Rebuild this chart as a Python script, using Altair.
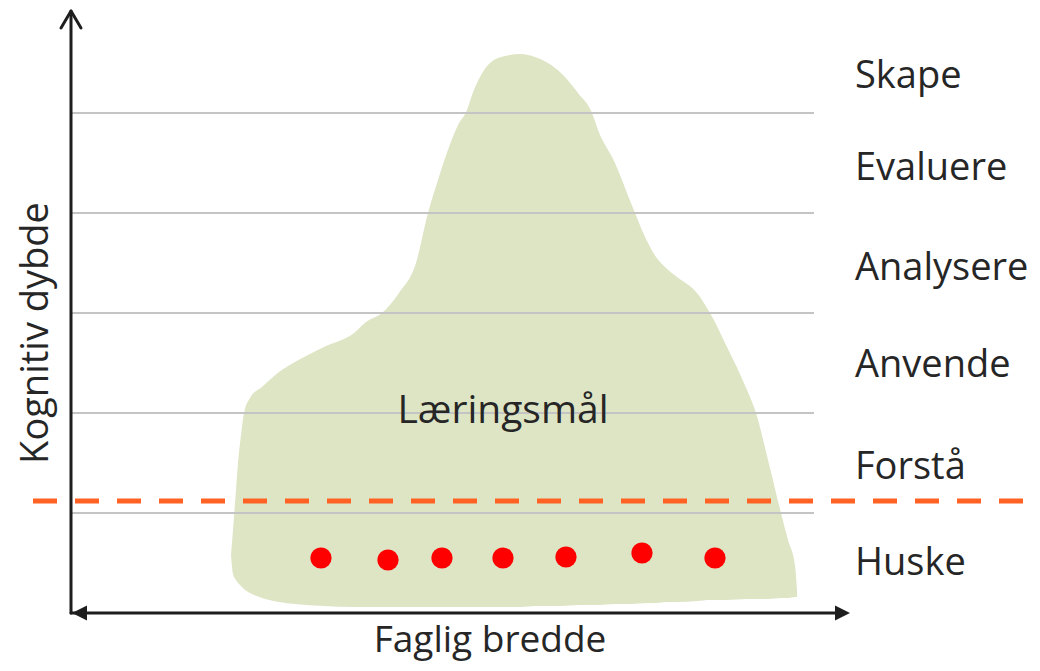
import altair as alt
import pandas as pd

# ---- data (diagram coordinates: x to the right, y downward) ----
level_labels = ["Skape", "Evaluere", "Analysere", "Anvende", "Forstå", "Huske"]
level_label_y = [88, 180, 280, 377, 479, 575]
grid_levels = [113, 213, 313, 413, 513]
threshold_level = 501

dot_x = [321, 388, 442, 503, 566, 642, 715]
dot_y = [558, 560, 558, 558, 557, 553, 558]

# outline of the learning-goal "mountain": x, upper edge, lower edge
blob_x = [231, 233, 236, 238, 241, 244, 250, 262, 279, 295, 324, 354, 366, 382,
          399, 416, 428, 438, 449, 458, 467, 472, 480, 490, 505, 521, 535, 548,
          561, 578, 592, 598, 615, 631, 648, 656, 666, 677, 697, 710, 727, 747,
          756, 768, 781, 788, 795, 797]
blob_top = [555, 530, 490, 463, 435, 413, 398, 387, 372, 362, 347, 333, 322, 313,
            293, 263, 213, 180, 147, 125, 110, 95, 77, 63, 56, 54, 57, 63,
            73, 93, 113, 130, 163, 203, 243, 257, 268, 277, 293, 313, 347, 390,
            413, 460, 513, 540, 565, 590]
blob_bottom = [555, 574, 580, 583, 586, 589, 593, 598, 602, 604, 606, 607, 607, 607,
               607, 607, 607, 607, 607, 607, 607, 607, 607, 607, 607, 607, 606, 606,
               606, 605, 605, 605, 604, 604, 603, 603, 602, 602, 601, 600, 600, 599,
               599, 599, 598, 598, 597, 597]

axis_origin = (71, 613)
y_axis_top = 11
x_axis_end = 850
grid_left, grid_right = 72, 814
threshold_left, threshold_right = 33, 1023

FONT = "Open Sans"
TXT = "#262626"

xs = alt.Scale(domain=[8, 1032], nice=False, zero=False)
ys = alt.Scale(domain=[8, 663], nice=False, zero=False, reverse=True)


def X(f):
    return alt.X(f, type="quantitative", scale=xs, axis=None)


def Y(f):
    return alt.Y(f, type="quantitative", scale=ys, axis=None)


# blob
blob_df = pd.DataFrame({"x": blob_x, "top": blob_top, "bot": blob_bottom})
blob = alt.Chart(blob_df).mark_area(color="#DDE5C5", interpolate="monotone", opacity=1).encode(
    x=X("x"), y=Y("top"), y2="bot"
)

# grid lines
grid_df = pd.DataFrame({"y": grid_levels, "x0": grid_left, "x1": grid_right})
grid = alt.Chart(grid_df).mark_rule(color="#C4C4C4", strokeWidth=2).encode(
    x=X("x0"), x2="x1", y=Y("y")
)

# axis lines + arrow heads
ox, oy = axis_origin
axes_df = pd.DataFrame({
    "x0": [ox, ox, ox, ox],
    "x1": [ox, x_axis_end - 6, ox - 10, ox + 10],
    "y0": [oy, oy, y_axis_top, y_axis_top],
    "y1": [y_axis_top + 1, oy, y_axis_top + 17, y_axis_top + 17],
})
axes = alt.Chart(axes_df).mark_rule(color="#1E1E1E", strokeWidth=3, strokeCap="round").encode(
    x=X("x0"), x2="x1", y=Y("y0"), y2="y1"
)
left_head = alt.Chart(pd.DataFrame({"x": [ox + 8.5], "y": [oy]})).mark_point(
    shape="M-1,0L1,-1L1,1Z", filled=True, size=225, color="#1E1E1E", opacity=1
).encode(x=X("x"), y=Y("y"))
right_head = alt.Chart(pd.DataFrame({"x": [x_axis_end - 7.5], "y": [oy]})).mark_point(
    shape="M1,0L-1,-1L-1,1Z", filled=True, size=225, color="#1E1E1E", opacity=1
).encode(x=X("x"), y=Y("y"))

# threshold dashed line
thr_df = pd.DataFrame({"y": [threshold_level], "x0": [threshold_left], "x1": [threshold_right]})
thr = alt.Chart(thr_df).mark_rule(color="#FF6222", strokeWidth=5, strokeDash=[24, 18]).encode(
    x=X("x0"), x2="x1", y=Y("y")
)

# red dots
dots_df = pd.DataFrame({"x": dot_x, "y": dot_y})
dots = alt.Chart(dots_df).mark_circle(color="#FF0000", size=450, opacity=1).encode(
    x=X("x"), y=Y("y")
)

# level labels
lab_df = pd.DataFrame({"label": level_labels, "y": level_label_y, "x": 855})
labels = alt.Chart(lab_df).mark_text(
    align="left", baseline="alphabetic", font=FONT, fontSize=38, color=TXT
).encode(x=X("x"), y=Y("y"), text="label:N")

center_df = pd.DataFrame({"t": ["Læringsmål"], "x": [503], "y": [423]})
center_txt = alt.Chart(center_df).mark_text(
    align="center", baseline="alphabetic", font=FONT, fontSize=39, color=TXT
).encode(x=X("x"), y=Y("y"), text="t:N")

xt_df = pd.DataFrame({"t": ["Faglig bredde"], "x": [490], "y": [652]})
x_title = alt.Chart(xt_df).mark_text(
    align="center", baseline="alphabetic", font=FONT, fontSize=37, color=TXT
).encode(x=X("x"), y=Y("y"), text="t:N")

yt_df = pd.DataFrame({"t": ["Kognitiv dybde"], "x": [48], "y": [333]})
y_title = alt.Chart(yt_df).mark_text(
    align="center", baseline="alphabetic", font=FONT, fontSize=38, color=TXT, angle=270
).encode(x=X("x"), y=Y("y"), text="t:N")

chart = alt.layer(
    blob, grid, thr, axes, left_head, right_head, dots, labels, center_txt, x_title, y_title
).properties(
    width=1024, height=655, autosize=alt.AutoSizeParams(type="none"), padding=0,
    background="white"
).configure_view(stroke=None)

chart.save("out.html", embed_options={"renderer": "svg", "actions": False})
